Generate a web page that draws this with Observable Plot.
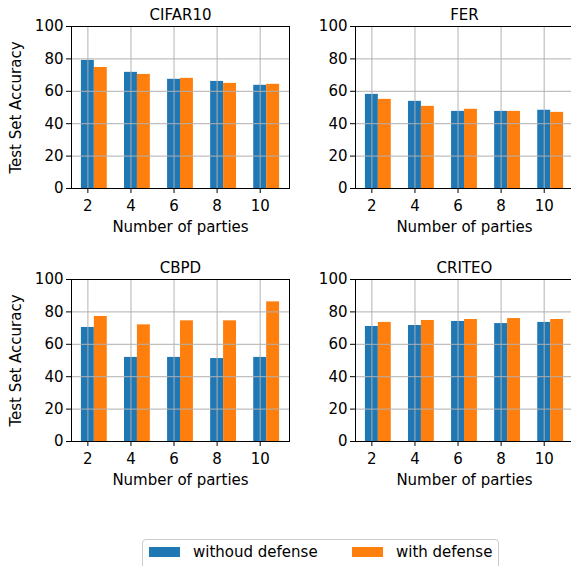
<!DOCTYPE html>
<html><head><meta charset="utf-8">
<script src="https://cdn.jsdelivr.net/npm/d3@7"></script>
<script src="https://cdn.jsdelivr.net/npm/@observablehq/plot@0.6"></script>
<style>
body{margin:0;background:#fff;}
#root{position:relative;width:571px;height:566px;overflow:hidden;font-family:"DejaVu Sans";background:#fff;color:#000}
.panel{position:absolute;width:300px;height:238px}
.panel svg{max-width:none !important}
#legend{position:absolute;left:142px;top:539px;width:357px;height:34px;border:1px solid #cccccc;border-radius:4px;background:#fff;box-sizing:border-box}
.sw{position:absolute;top:7px;width:31px;height:10px}
.lt{position:absolute;top:0px;font-size:15px;line-height:24px;white-space:nowrap}
</style></head><body><div id="root"></div>
<script>
const parties = [2, 4, 6, 8, 10];
const yTicks = [0, 20, 40, 60, 80, 100];
const seriesNames = ["withoud defense", "with defense"];
const datasets = ["CIFAR10", "FER", "CBPD", "CRITEO"];
const cifarWithout = [79.1, 71.7, 67.4, 66.1, 63.7];
const cifarWith    = [74.7, 70.4, 68.0, 64.9, 64.3];
const ferWithout   = [58.1, 53.8, 47.6, 47.6, 48.3];
const ferWith      = [55.0, 50.7, 48.9, 47.6, 47.0];
const cbpdWithout  = [70.4, 51.9, 51.9, 51.2, 51.9];
const cbpdWith     = [77.2, 72.0, 74.5, 74.5, 86.2];
const criteoWithout = [71.0, 71.6, 74.1, 72.8, 73.5];
const criteoWith    = [73.5, 74.7, 75.3, 75.9, 75.3];
const colors = ["#1f77b4", "#ff7f0e"];

function panel(title, without, withD, showYLabel) {
  const rows = parties.map((p, i) => ({p, without: without[i], with: withD[i]}));
  return Plot.plot({
    width: 300, height: 238,
    marginLeft: 71, marginRight: 11, marginTop: 26, marginBottom: 50,
    style: {fontFamily: "DejaVu Sans", fontSize: "15px", color: "#000", background: "transparent", overflow: "visible", maxWidth: "none"},
    x: {domain: [1.24, 11.36]},
    y: {domain: [0, 100]},
    marks: [
      Plot.rect(rows, {x1: d => d.p - 0.3, x2: d => d.p + 0.3, y1: 0, y2: "without", fill: colors[0]}),
      Plot.rect(rows, {x1: d => d.p + 0.3, x2: d => d.p + 0.9, y1: 0, y2: "with", fill: colors[1]}),
      Plot.gridX(parties, {stroke: "#b0b0b0", strokeOpacity: 0.8, strokeWidth: 1.2}),
      Plot.gridY(yTicks, {stroke: "#b0b0b0", strokeOpacity: 0.8, strokeWidth: 1.2}),
      Plot.frame({stroke: "#000"}),
      Plot.axisX(parties, {tickSize: 5, tickPadding: 7, label: null}),
      Plot.axisY(yTicks, {tickSize: 5, tickPadding: 3, label: null}),
      Plot.text([title], {text: d => d, frameAnchor: "top", dy: -17}),
      Plot.text(["Number of parties"], {text: d => d, frameAnchor: "bottom", dy: 43}),
      showYLabel ? Plot.text(["Test Set Accuracy"], {text: d => d, frameAnchor: "left", textAnchor: "middle", rotate: -90, dx: -55}) : null
    ]
  });
}

const root = document.getElementById("root");
const specs = [
  [datasets[0], cifarWithout, cifarWith, true, 0, 0],
  [datasets[1], ferWithout, ferWith, false, 284, 0],
  [datasets[2], cbpdWithout, cbpdWith, true, 0, 253],
  [datasets[3], criteoWithout, criteoWith, false, 284, 253]
];
for (const [t, a, b, yl, left, top] of specs) {
  const div = document.createElement("div");
  div.className = "panel";
  div.style.left = left + "px";
  div.style.top = top + "px";
  div.appendChild(panel(t, a, b, yl));
  root.appendChild(div);
}
const legend = document.createElement("div");
legend.id = "legend";
legend.innerHTML =
  `<div class="sw" style="left:6px;background:${colors[0]}"></div>` +
  `<div class="lt" style="left:50px">${seriesNames[0]}</div>` +
  `<div class="sw" style="left:209px;background:${colors[1]}"></div>` +
  `<div class="lt" style="left:253px">${seriesNames[1]}</div>`;
root.appendChild(legend);
</script></body></html>
